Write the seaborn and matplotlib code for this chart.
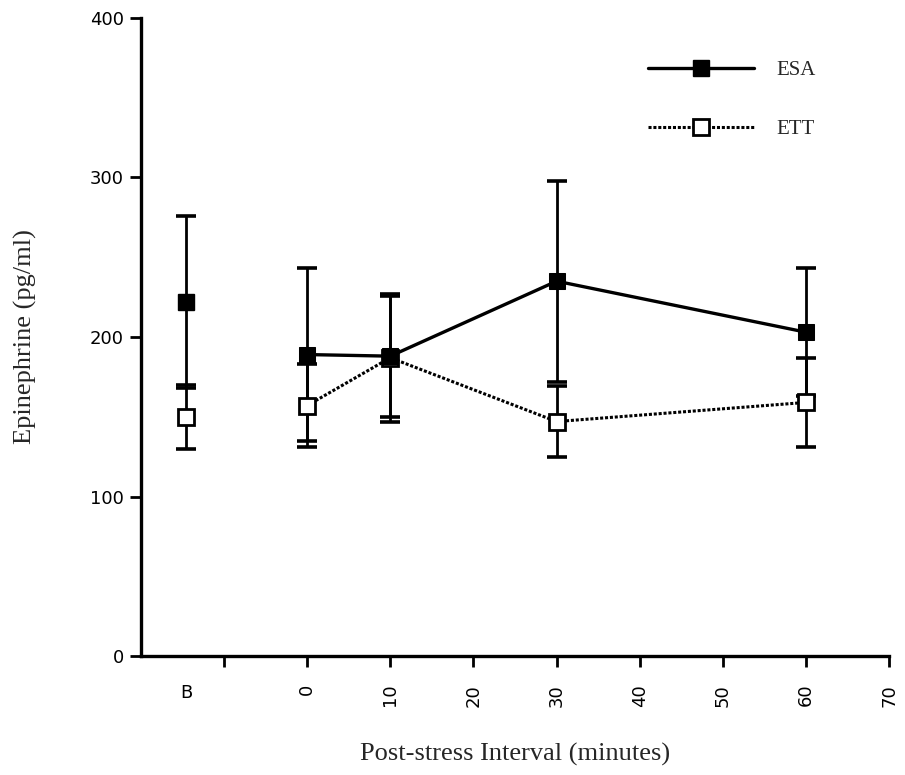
import numpy as np
import pandas as pd
import seaborn as sns
import matplotlib
matplotlib.use("Agg")
import matplotlib.pyplot as plt
from matplotlib.lines import Line2D

# data
minutes = [0, 10, 30, 60]
esa_mean = [189, 188, 235, 203]
esa_err = [54, 38, 63, 40]
ett_mean = [157, 187, 147, 159]
ett_err = [26, 40, 22, 28]

base_pos = -14.5
esa_base = 222
esa_base_err = 54
ett_base = 150
ett_base_err = 20

xticks = [-10, 0, 10, 20, 30, 40, 50, 60, 70]
xticklabels = ['', '0', '10', '20', '30', '40', '50', '60', '70']
yticks = [0, 100, 200, 300, 400]

df = pd.DataFrame({
    'minutes': minutes * 2,
    'value': esa_mean + ett_mean,
    'group': ['ESA'] * len(minutes) + ['ETT'] * len(minutes),
})

sns.set_style("ticks")
plt.rcParams['font.family'] = ['DejaVu Sans']

fig = plt.figure(figsize=(9.05, 7.75), dpi=100)
ax = fig.add_axes([0.1555, 0.1535, 0.8272, 0.8233])

ms = 12
sns.lineplot(data=df[df.group == 'ETT'], x='minutes', y='value', ax=ax,
             color='black', lw=2.2, linestyle=(0, (1, 0.6)), marker='s',
             markersize=ms, markerfacecolor='white', markeredgecolor='black',
             markeredgewidth=2, zorder=4)
sns.lineplot(data=df[df.group == 'ESA'], x='minutes', y='value', ax=ax,
             color='black', lw=2.4, marker='s', markersize=ms,
             markerfacecolor='black', markeredgecolor='black', zorder=5)

eb = dict(fmt='none', ecolor='black', elinewidth=2, capsize=7, capthick=2.6)
ax.errorbar(minutes, esa_mean, yerr=esa_err, zorder=3, **eb)
ax.errorbar(minutes, ett_mean, yerr=ett_err, zorder=3, **eb)
ax.errorbar([base_pos], [esa_base], yerr=[esa_base_err], zorder=3, **eb)
ax.errorbar([base_pos], [ett_base], yerr=[ett_base_err], zorder=3, **eb)
ax.plot([base_pos], [esa_base], 's', ms=ms, color='black', zorder=5)
ax.plot([base_pos], [ett_base], 's', ms=ms, mfc='white', mec='black',
        mew=2, zorder=4)

ax.set_xlim(-20, 70)
ax.set_ylim(0, 400)
ax.set_xticks(xticks)
ax.set_xticklabels(xticklabels, rotation=90, fontsize=13)
ax.set_xticks([base_pos], ['B'], minor=True, fontsize=13)
ax.tick_params(axis='x', which='minor', length=0, pad=20, colors='black')
ax.tick_params(axis='x', which='major', length=8, width=2, pad=12,
               colors='black')
ax.set_yticks(yticks)
ax.set_yticklabels([str(v) for v in yticks], fontsize=13)
ax.tick_params(axis='y', length=8, width=2, pad=4, colors='black')

sns.despine(ax=ax)
for s in ['left', 'bottom']:
    ax.spines[s].set_linewidth(2.4)
    ax.spines[s].set_color('black')

ax.set_xlabel('Post-stress Interval (minutes)', family='Liberation Serif',
              fontsize=19, labelpad=26)
ax.set_ylabel('Epinephrine (pg/ml)', family='Liberation Serif',
              fontsize=19, labelpad=38)

handles = [
    Line2D([], [], color='black', lw=2.4, marker='s', ms=ms),
    Line2D([], [], color='black', lw=2.2, linestyle=(0, (1, 0.6)),
           marker='s', ms=ms, mfc='white', mec='black', mew=2),
]
leg = ax.legend(handles, ['ESA', 'ETT'], loc='upper left',
                bbox_to_anchor=(0.652, 0.963), frameon=False,
                handlelength=5.1, labelspacing=1.9, handletextpad=1.1,
                prop={'family': 'Liberation Serif', 'size': 15})

fig.savefig('out.png', dpi=100)
